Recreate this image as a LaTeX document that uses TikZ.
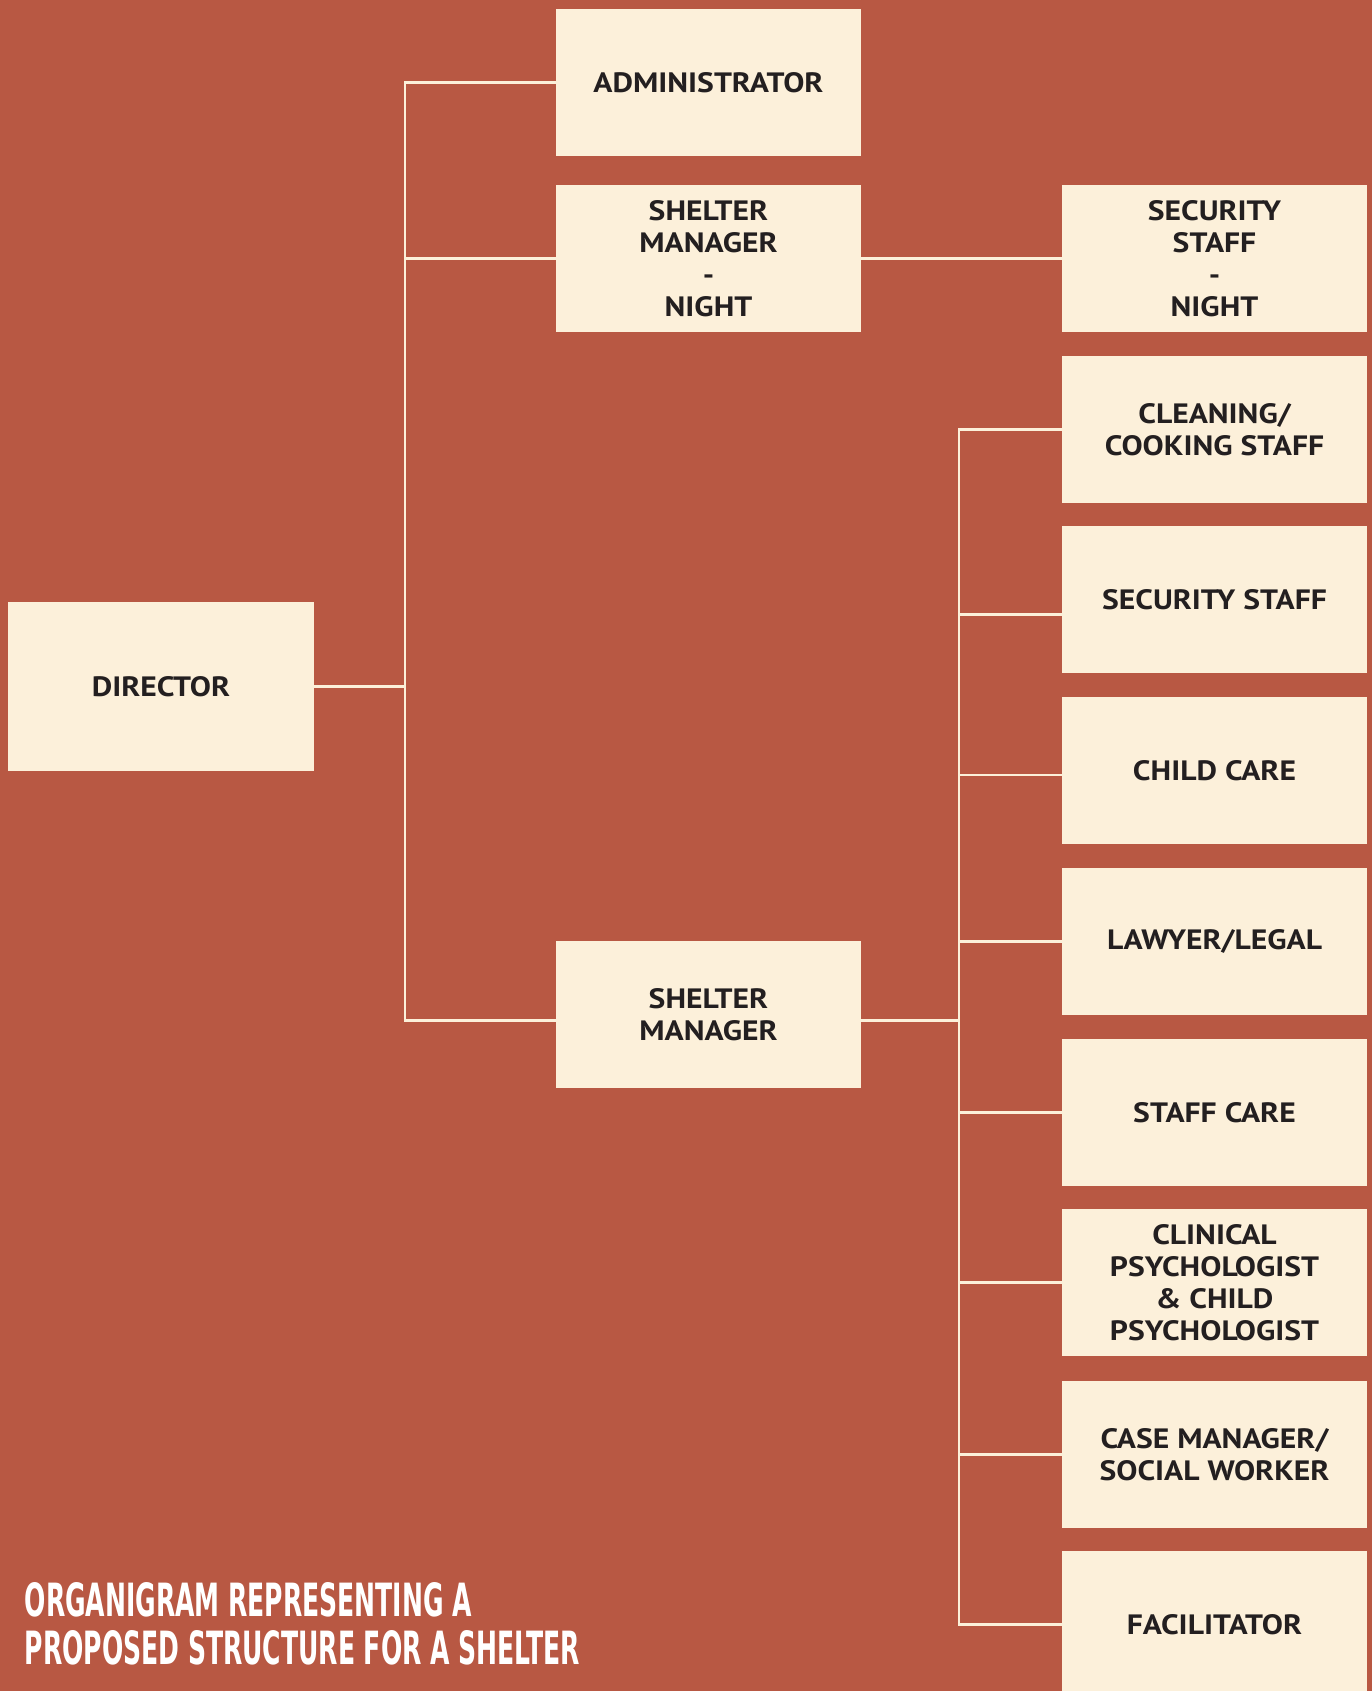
\documentclass[tikz,border=0pt]{standalone}
\usepackage{fontspec}
\setmainfont{PT Sans}[FakeStretch=1.13]
\newfontfamily\titlefont{DejaVu Sans Condensed Bold}
\definecolor{bg}{HTML}{B85843}
\definecolor{boxc}{HTML}{FCF0DA}
\definecolor{linec}{HTML}{FCF0DA}
\definecolor{txt}{HTML}{231F20}
\begin{document}
\begin{tikzpicture}[x=1pt,y=-1pt,
  box/.style={fill=boxc, text=txt, minimum width=305pt, minimum height=147pt,
    inner sep=0pt, align=center, font=\fontsize{28}{32}\selectfont\bfseries},
  link/.style={draw=linec, line width=2.5pt},
  spur/.style={link, line cap=rect},
  titletext/.style={anchor=base west, inner sep=0pt, text=white}]
\fill[bg] (0,0) rectangle (1372,1691);
\useasboundingbox (0,0) rectangle (1372,1691);
\clip (0,0) rectangle (1372,1691);

% left and middle
\node[box, minimum width=306pt, minimum height=169pt] (dir) at (161,686.5) {DIRECTOR};
\node[box] (admin) at (708.5,82.5) {ADMINISTRATOR};
\node[box] (smn) at (708.5,258.5) {SHELTER\\MANAGER\\-\\NIGHT};
\node[box] (sm) at (708.5,1014.5) {SHELTER\\MANAGER};

% right column
\node[box] (ssn) at (1214.5,258.5) {SECURITY\\STAFF\\-\\NIGHT};
\node[box] (clean) at (1214.5,429.5) {CLEANING/\\COOKING STAFF};
\node[box] (sec) at (1214.5,599.5) {SECURITY STAFF};
\node[box] (child) at (1214.5,770.5) {CHILD CARE};
\node[box] (law) at (1214.5,941.5) {LAWYER/LEGAL};
\node[box] (staff) at (1214.5,1112.5) {STAFF CARE};
\node[box] (clin) at (1214.5,1282.5) {CLINICAL\\PSYCHOLOGIST\\\& CHILD\\PSYCHOLOGIST};
\node[box] (case) at (1214.5,1454.5) {CASE MANAGER/\\SOCIAL WORKER};
\node[box] (fac) at (1214.5,1624.5) {FACILITATOR};

\coordinate (lv) at (405,0);
\coordinate (rv) at (959,0);

% connectors
\draw[link] (dir.east) -- (dir.east -| lv);
\draw[link] (admin.west) -- (admin.west -| lv) -- ([yshift=-6pt]sm.west -| lv) -- ([yshift=-6pt]sm.west);
\draw[spur] (smn.west) -- (smn.west -| lv);
\draw[link] (smn.east) -- (ssn.west);
\draw[link] ([yshift=-6pt]sm.east) -- ([yshift=-6pt]sm.east -| rv);
\draw[link] (clean.west) -- (clean.west -| rv) -- (fac.west -| rv) -- (fac.west);
\draw[spur] ([yshift=-15pt]sec.west) -- ([yshift=-15pt]sec.west -| rv);
\draw[spur] ([yshift=-4.5pt]child.west) -- ([yshift=-4.5pt]child.west -| rv);
\foreach \n in {law,staff,clin,case}
  \draw[spur] (\n.west) -- (\n.west -| rv);

% title
\node[titletext] (t1) at (24.5,1616) {\resizebox{447pt}{34pt}{\titlefont ORGANIGRAM REPRESENTING A}};
\node[titletext] (t2) at (24.5,1664) {\resizebox{555pt}{34pt}{\titlefont PROPOSED STRUCTURE FOR A SHELTER}};
\end{tikzpicture}
\end{document}
